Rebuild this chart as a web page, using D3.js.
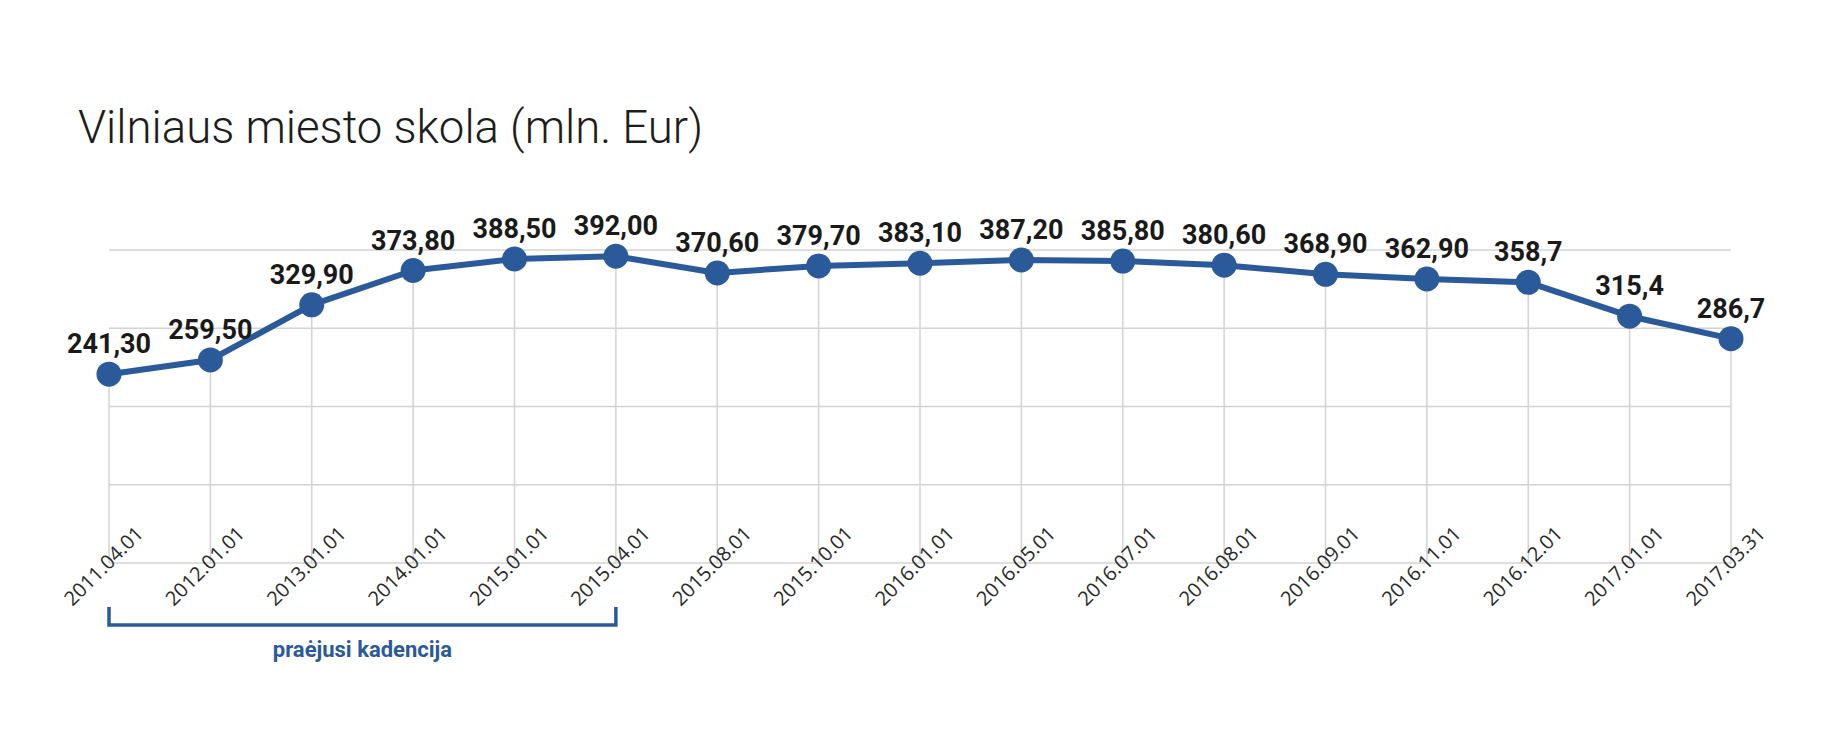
<!DOCTYPE html>
<html>
<head>
<meta charset="utf-8">
<script src="https://cdn.jsdelivr.net/npm/d3@7"></script>
<style>
  html, body { margin: 0; padding: 0; background: #ffffff; }
  svg { display: block; }
</style>
</head>
<body>
<svg id="chart" width="1842" height="739"></svg>
<script>
const title = "Vilniaus miesto skola (mln. Eur)";
const categories = ["2011.04.01","2012.01.01","2013.01.01","2014.01.01","2015.01.01","2015.04.01","2015.08.01","2015.10.01","2016.01.01","2016.05.01","2016.07.01","2016.08.01","2016.09.01","2016.11.01","2016.12.01","2017.01.01","2017.03.31"];
const values = [241.3, 259.5, 329.9, 373.8, 388.5, 392.0, 370.6, 379.7, 383.1, 387.2, 385.8, 380.6, 368.9, 362.9, 358.7, 315.4, 286.7];
const valueLabels = ["241,30","259,50","329,90","373,80","388,50","392,00","370,60","379,70","383,10","387,20","385,80","380,60","368,90","362,90","358,7","315,4","286,7"];
const gridValues = [0, 100, 200, 300, 400];
const bracketRange = ["2011.04.01", "2015.04.01"];
const bracketLabel = "praėjusi kadencija";

const blue = "#2a5a9a";
const svg = d3.select("#chart");

const x = d3.scalePoint().domain(categories).range([109, 1731]);
const y = d3.scaleLinear().domain([0, 400]).range([563, 250]);

// title
svg.append("text")
  .attr("x", 78).attr("y", 143)
  .attr("font-family", "Roboto, sans-serif")
  .attr("font-weight", 300)
  .attr("font-size", 46)
  .attr("fill", "#1d1d1b")
  .attr("textLength", 625)
  .attr("lengthAdjust", "spacingAndGlyphs")
  .text(title);

// horizontal gridlines
svg.append("g").selectAll("line").data(gridValues).join("line")
  .attr("x1", x.range()[0]).attr("x2", x.range()[1])
  .attr("y1", d => y(d)).attr("y2", d => y(d))
  .attr("stroke", "#d3d3d3").attr("stroke-width", 1.5);

// vertical drop lines
svg.append("g").selectAll("line").data(categories).join("line")
  .attr("x1", d => x(d)).attr("x2", d => x(d))
  .attr("y1", (d, i) => y(values[i])).attr("y2", y(0))
  .attr("stroke", "#d3d3d3").attr("stroke-width", 1.5);

// x axis labels
const xAxis = svg.append("g")
  .attr("transform", `translate(0,${y(0)})`)
  .call(d3.axisBottom(x).tickSize(0));
xAxis.select(".domain").remove();
xAxis.selectAll("text")
  .attr("font-family", "'Open Sans', sans-serif")
  .attr("font-size", 20)
  .attr("fill", "#2a2a2a")
  .attr("text-anchor", "middle")
  .attr("y", 0)
  .attr("dy", "0.35em")
  .attr("transform", "translate(-6,3) rotate(-45)");

// line
const line = d3.line().x((d, i) => x(categories[i])).y(d => y(d));
svg.append("path")
  .datum(values)
  .attr("d", line)
  .attr("fill", "none")
  .attr("stroke", blue)
  .attr("stroke-width", 6)
  .attr("stroke-linejoin", "round");

// points
svg.append("g").selectAll("circle").data(values).join("circle")
  .attr("cx", (d, i) => x(categories[i]))
  .attr("cy", d => y(d))
  .attr("r", 12.5)
  .attr("fill", blue);

// value labels
svg.append("g").selectAll("text").data(values).join("text")
  .attr("x", (d, i) => x(categories[i]))
  .attr("y", d => y(d) - 21)
  .attr("text-anchor", "middle")
  .attr("font-family", "Roboto, sans-serif")
  .attr("font-weight", 700)
  .attr("font-size", 27)
  .attr("fill", "#1a1a1a")
  .text((d, i) => valueLabels[i]);

// bracket
const bx0 = x(bracketRange[0]), bx1 = x(bracketRange[1]);
svg.append("path")
  .attr("d", `M${bx0},607 V625 H${bx1} V607`)
  .attr("fill", "none")
  .attr("stroke", blue)
  .attr("stroke-width", 3.5);
svg.append("text")
  .attr("x", (bx0 + bx1) / 2).attr("y", 657)
  .attr("text-anchor", "middle")
  .attr("font-family", "Roboto, sans-serif")
  .attr("font-weight", 700)
  .attr("font-size", 22)
  .attr("fill", blue)
  .text(bracketLabel);
</script>
</body>
</html>
